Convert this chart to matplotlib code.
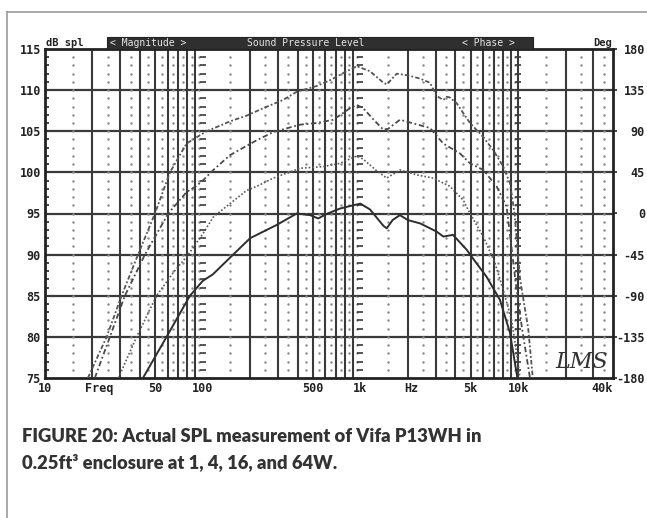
import numpy as np
import matplotlib
matplotlib.use('Agg')
import matplotlib.pyplot as plt
from matplotlib.patches import Rectangle
from matplotlib.lines import Line2D

# SPL curves (Hz, dB) at 1, 4, 16 and 64 W
f_1w = [41.8, 59, 83, 100, 116, 156, 200, 294, 395, 480, 540, 620, 743, 900, 1000,
        1150, 1400, 1470, 1600, 1780, 2000, 2390, 3045, 3356, 3866, 4720, 5330, 6318,
        7674, 8885, 9900]
spl_1w = [75, 80, 85, 86.8, 87.6, 90, 92, 93.6, 95, 94.8, 94.4, 95.0, 95.6, 96.0, 96.2,
          95.5, 93.5, 93.2, 94.2, 94.8, 94.2, 93.8, 92.8, 92.2, 92.4, 90.6, 89.2, 87.3,
          84.5, 80.5, 75]

f_4w = [29.2, 38.1, 51, 65, 81, 100, 117, 149, 190, 220, 280, 414, 582, 743, 950, 1043,
        1250, 1468, 1782, 2275, 2900, 3700, 4500, 4956, 6015, 7130, 8055, 9110, 9790, 10280]
spl_4w = [75, 80, 85, 87.8, 90, 92.5, 94.6, 96.2, 97.8, 98.3, 99.3, 100.5, 100.7, 101.1,
          102.0, 101.6, 100.3, 99.3, 100.3, 99.7, 99.3, 98.3, 96.6, 95, 92.2, 89, 85.7,
          82, 78, 75]

f_16w = [20.7, 25.8, 32.1, 43, 60.5, 79, 92, 100, 117, 149, 220, 280, 414, 528, 673, 860,
         950, 1043, 1200, 1397, 1500, 1782, 2763, 3356, 4283, 4956, 6015, 7310, 8464,
         9600, 10600, 11900]
spl_16w = [75, 80, 85, 90, 95, 97.6, 98.4, 99.0, 100.3, 102.1, 103.9, 104.9, 105.8, 106.0,
           106.4, 107.8, 108.2, 107.8, 106.5, 105.2, 105.3, 106.4, 105.4, 103.5, 102.3,
           101.1, 100.3, 98.3, 95.8, 87, 81, 75]

f_64w = [18.7, 24.6, 30.6, 38.9, 49.8, 62, 79, 92, 106, 149, 190, 242, 323, 395, 528, 642,
         800, 950, 1150, 1400, 1470, 1700, 2000, 2390, 2763, 3045, 3356, 3525, 3700, 4080,
         4496, 4956, 6015, 6966, 8055, 8885, 9500, 10300, 11600, 12400]
spl_64w = [75, 80, 85, 90, 95, 100, 103.5, 104.3, 105.0, 106.2, 106.9, 107.8, 108.8,
           109.8, 110.5, 111.2, 112.2, 112.9, 112.3, 110.9, 110.7, 112.0, 111.8, 111.4,
           110.9, 109.3, 108.8, 109.2, 109.1, 108.4, 107.2, 106.0, 104.3, 102.7, 100.7,
           98.7, 95, 87, 81, 75]

# axis labels
db_ticks = [75, 80, 85, 90, 95, 100, 105, 110, 115]
deg_ticks = [-180, -135, -90, -45, 0, 45, 90, 135, 180]
freq_pos = [10, 22, 50, 100, 500, 1000, 2100, 5000, 10000, 40000]
freq_lab = ['10', 'Freq', '50', '100', '500', '1k', 'Hz', '5k', '10k', '40k']

major_f = [m * d for d in (10, 100, 1000) for m in range(2, 10)] + [10000, 20000, 30000]
minor_f = [(m + 0.5) * d for d in (10, 100, 1000) for m in range(1, 10)] + [15000, 25000, 35000]

W, H = 647, 518
fig = plt.figure(figsize=(W / 100, H / 100), dpi=100, facecolor='white')
ax = fig.add_axes([45 / W, 1 - 378 / H, 568 / W, 329 / H])
ax.set_xscale('log')
ax.set_xlim(10, 40000)
ax.set_ylim(75, 115)

grid_c = '#3a3a3a'
for f in major_f:
    ax.axvline(f, color=grid_c, lw=1.5, zorder=1)
for y in db_ticks[1:-1]:
    ax.axhline(y, color=grid_c, lw=1.6, zorder=1)

# dotted sub-grid: one dot per dB on the half-step lines
steps = np.arange(76, 115)
for f in minor_f:
    ax.plot([f] * len(steps), steps, ls='none', marker='.', ms=1.5, color='#888', zorder=1)
# tick crosses on the decade lines
for f in (100, 1000, 10000):
    ax.plot([f] * len(steps), steps, ls='none', marker='_', ms=5, mew=1.2, color=grid_c, zorder=1)

ax.plot(f_1w, spl_1w, color='#2e2e2e', lw=1.4, zorder=3)
ax.plot(f_4w, spl_4w, color='#5a5a5a', lw=1.2, ls=(0, (1, 1.2)), zorder=3)
ax.plot(f_16w, spl_16w, color='#4a4a4a', lw=1.3, ls=(0, (3, 1.5, 1, 1.5)), zorder=3)
ax.plot(f_64w, spl_64w, color='#555', lw=1.3, ls=(0, (2.5, 1.2, 1, 1.2)), zorder=3)

for s in ax.spines.values():
    s.set_linewidth(2)
    s.set_color('#222')

tick_font = dict(family='DejaVu Sans Mono', weight='bold', size=8.5, color='#222')
ax.set_yticks(db_ticks)
ax.set_yticklabels([str(v) for v in db_ticks], **tick_font)
ax.set_yticks(np.arange(75, 116), minor=True)
ax.tick_params(axis='y', which='major', length=0, pad=3)
ax.tick_params(axis='y', which='minor', length=3, width=1.2, direction='in', color='#222')
ax.set_xticks(freq_pos)
ax.set_xticklabels(freq_lab, **tick_font)
ax.set_xticks([], minor=True)
ax.tick_params(axis='x', length=0, pad=3)
ax.get_xticklabels()[-1].set_horizontalalignment('right')

ax2 = ax.twinx()
ax2.set_ylim(-180, 180)
ax2.set_yticks(deg_ticks)
ax2.set_yticklabels([str(v) for v in deg_ticks], **tick_font)
ax2.tick_params(axis='y', length=3, width=1.2, color='#222', pad=20)
for lab in ax2.get_yticklabels():
    lab.set_horizontalalignment('right')
for s in ax2.spines.values():
    s.set_visible(False)

# header strip above the plot
fig.patches.append(Rectangle((107 / W, 1 - 48.5 / H), (533 - 107) / W, 11.5 / H,
                             transform=fig.transFigure, facecolor='#2f2f2f',
                             edgecolor='#222', lw=0.8))
hdr = dict(family='DejaVu Sans Mono', size=7, va='center', color='#e6e6e6')
yh = 1 - 42.5 / H
fig.text(110 / W, yh, '< Magnitude >', **hdr)
fig.text(247 / W, yh, 'Sound Pressure Level', **hdr)
fig.text(462 / W, yh, '< Phase >', **hdr)
fig.text(46 / W, yh, 'dB spl', family='DejaVu Sans Mono', weight='bold', size=7.5,
         va='center', color='#222')
fig.text(612 / W, yh, 'Deg', family='DejaVu Sans Mono', weight='bold', size=7.5,
         va='center', ha='right', color='#222')

# signature
fig.text(582 / W, 1 - 362 / H, 'LMS', fontsize=16, style='italic', family='DejaVu Serif',
         ha='center', va='center', color='#333')

# frame lines of the page
fig.add_artist(Line2D([7 / W, 7 / W], [0, 1 - 12 / H], transform=fig.transFigure,
                      color='#999', lw=1.2))
fig.add_artist(Line2D([7 / W, 1], [1 - 12 / H, 1 - 12 / H], transform=fig.transFigure,
                      color='#999', lw=1.2))

cap = dict(family=['Lato', 'DejaVu Sans'], weight='heavy', size=13.2,
           color='#333333', va='center')
fig.text(22 / W, 1 - 437 / H, 'FIGURE 20: Actual SPL measurement of Vifa P13WH in', **cap)
fig.text(22 / W, 1 - 462 / H, '0.25ft³ enclosure at 1, 4, 16, and 64W.', **cap)

fig.savefig('out.png', dpi=100, facecolor='white')
